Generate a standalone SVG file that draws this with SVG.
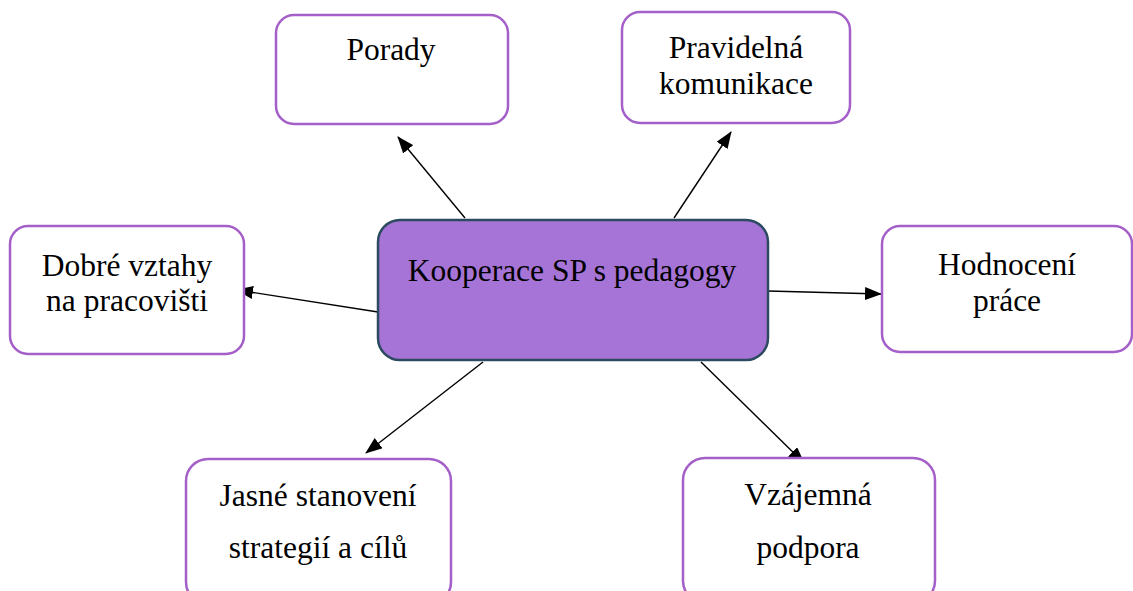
<svg xmlns="http://www.w3.org/2000/svg" width="1133" height="591" viewBox="0 0 1133 591">
<defs>
<marker id="ah" markerWidth="17" markerHeight="13" refX="16" refY="6.5" orient="auto" markerUnits="userSpaceOnUse">
<path d="M0,0 L17,6.5 L0,13 Z" fill="#000"/>
</marker>
<style>
.n rect{fill:#fff;stroke:#A460C8;stroke-width:2.5}
#center rect{fill:#A674D6;stroke:#2C4A60;stroke-width:2.5}
text{font-family:'Liberation Serif','Times New Roman','DejaVu Serif',serif;font-size:31.5px;fill:#000;text-anchor:middle}
#connectors line{stroke:#000;stroke-width:1.4;marker-end:url(#ah)}
</style>
</defs>
<rect width="1133" height="591" fill="#fff"/>
<g id="connectors">
<line x1="465" y1="218" x2="398" y2="137"/>
<line x1="674" y1="218" x2="731" y2="132"/>
<line x1="378" y1="312" x2="237" y2="290"/>
<line x1="768" y1="291" x2="881" y2="294"/>
<line x1="483" y1="362" x2="366" y2="453"/>
<line x1="701" y1="362" x2="804" y2="463"/>
</g>
<g id="center"><rect x="378" y="220" width="390" height="140" rx="22"/><text x="572" y="281" font-family="Liberation Serif, serif">Kooperace SP s pedagogy</text></g>
<g id="porady" class="n"><rect x="276" y="15" width="232" height="109" rx="18"/><text x="391" y="60">Porady</text></g>
<g id="komunikace" class="n"><rect x="622" y="12" width="228" height="111" rx="18"/><text x="736" y="58">Pravidelná</text><text x="736" y="94">komunikace</text></g>
<g id="vztahy" class="n"><rect x="10" y="226" width="234" height="128" rx="18"/><text x="127" y="276">Dobré vztahy</text><text x="127" y="311">na pracovišti</text></g>
<g id="hodnoceni" class="n"><rect x="882" y="226" width="250" height="126" rx="18"/><text x="1007" y="275">Hodnocení</text><text x="1007" y="311">práce</text></g>
<g id="cile" class="n"><rect x="186" y="459" width="265" height="145" rx="22"/><text x="318" y="506">Jasné stanovení</text><text x="318" y="558">strategií a cílů</text></g>
<g id="podpora" class="n"><rect x="683" y="458" width="252" height="145" rx="22"/><text x="808" y="505">Vzájemná</text><text x="808" y="558">podpora</text></g>
</svg>
